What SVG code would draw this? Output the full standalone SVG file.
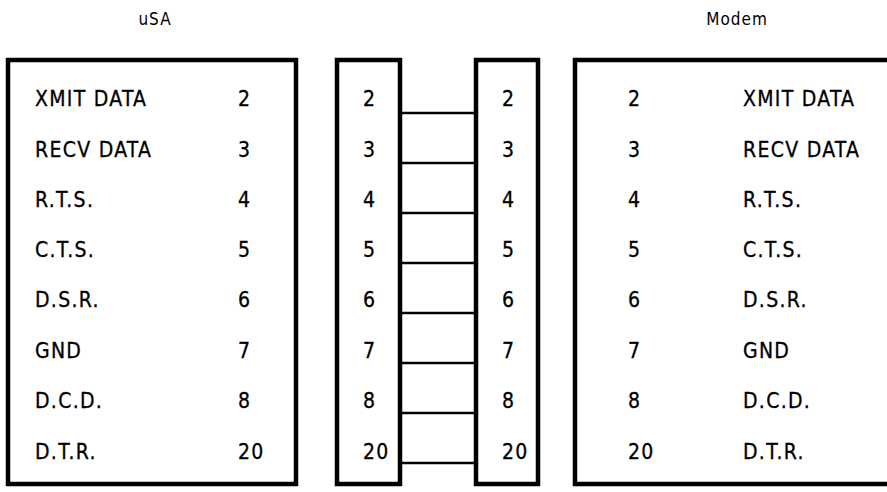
<svg xmlns="http://www.w3.org/2000/svg" width="887" height="492" viewBox="0 0 887 492">
<style>
.box{fill:none;stroke:#000;stroke-width:4.5}
.wire{stroke:#000;stroke-width:2.5}
text{font-family:"DejaVu Sans Condensed","DejaVu Sans",sans-serif;font-size:21px;fill:#000;stroke:#000;stroke-width:0.3;letter-spacing:1.3px}
.title{font-size:17px;letter-spacing:1px;stroke-width:0;text-anchor:middle}
</style>
<rect width="887" height="492" fill="#fff"/>
<text class="title" x="155" y="25">uSA</text>
<text class="title" x="737" y="25">Modem</text>
<g id="usa">
<rect class="box" x="8" y="60" width="288" height="424"/>
<text x="35" y="106">XMIT DATA</text><text x="238" y="106">2</text>
<text x="35" y="157">RECV DATA</text><text x="238" y="157">3</text>
<text x="35" y="207">R.T.S.</text><text x="238" y="207">4</text>
<text x="35" y="257">C.T.S.</text><text x="238" y="257">5</text>
<text x="35" y="307">D.S.R.</text><text x="238" y="307">6</text>
<text x="35" y="358">GND</text><text x="238" y="358">7</text>
<text x="35" y="408">D.C.D.</text><text x="238" y="408">8</text>
<text x="35" y="459">D.T.R.</text><text x="238" y="459">20</text>
</g>
<g id="plug-left">
<rect class="box" x="337" y="60" width="63" height="424"/>
<text x="363" y="106">2</text>
<text x="363" y="157">3</text>
<text x="363" y="207">4</text>
<text x="363" y="257">5</text>
<text x="363" y="307">6</text>
<text x="363" y="358">7</text>
<text x="363" y="408">8</text>
<text x="363" y="459">20</text>
</g>
<g id="plug-right">
<rect class="box" x="476" y="60" width="62" height="424"/>
<text x="502" y="106">2</text>
<text x="502" y="157">3</text>
<text x="502" y="207">4</text>
<text x="502" y="257">5</text>
<text x="502" y="307">6</text>
<text x="502" y="358">7</text>
<text x="502" y="408">8</text>
<text x="502" y="459">20</text>
</g>
<g id="modem">
<rect class="box" x="575" y="60" width="320" height="424"/>
<text x="628" y="106">2</text><text x="743" y="106">XMIT DATA</text>
<text x="628" y="157">3</text><text x="743" y="157">RECV DATA</text>
<text x="628" y="207">4</text><text x="743" y="207">R.T.S.</text>
<text x="628" y="257">5</text><text x="743" y="257">C.T.S.</text>
<text x="628" y="307">6</text><text x="743" y="307">D.S.R.</text>
<text x="628" y="358">7</text><text x="743" y="358">GND</text>
<text x="628" y="408">8</text><text x="743" y="408">D.C.D.</text>
<text x="628" y="459">20</text><text x="743" y="459">D.T.R.</text>
</g>
<g id="connectors">
<line class="wire" x1="400" y1="113" x2="476" y2="113"/>
<line class="wire" x1="400" y1="163" x2="476" y2="163"/>
<line class="wire" x1="400" y1="213" x2="476" y2="213"/>
<line class="wire" x1="400" y1="263" x2="476" y2="263"/>
<line class="wire" x1="400" y1="313" x2="476" y2="313"/>
<line class="wire" x1="400" y1="363" x2="476" y2="363"/>
<line class="wire" x1="400" y1="413" x2="476" y2="413"/>
<line class="wire" x1="400" y1="463" x2="476" y2="463"/>
</g>
</svg>
